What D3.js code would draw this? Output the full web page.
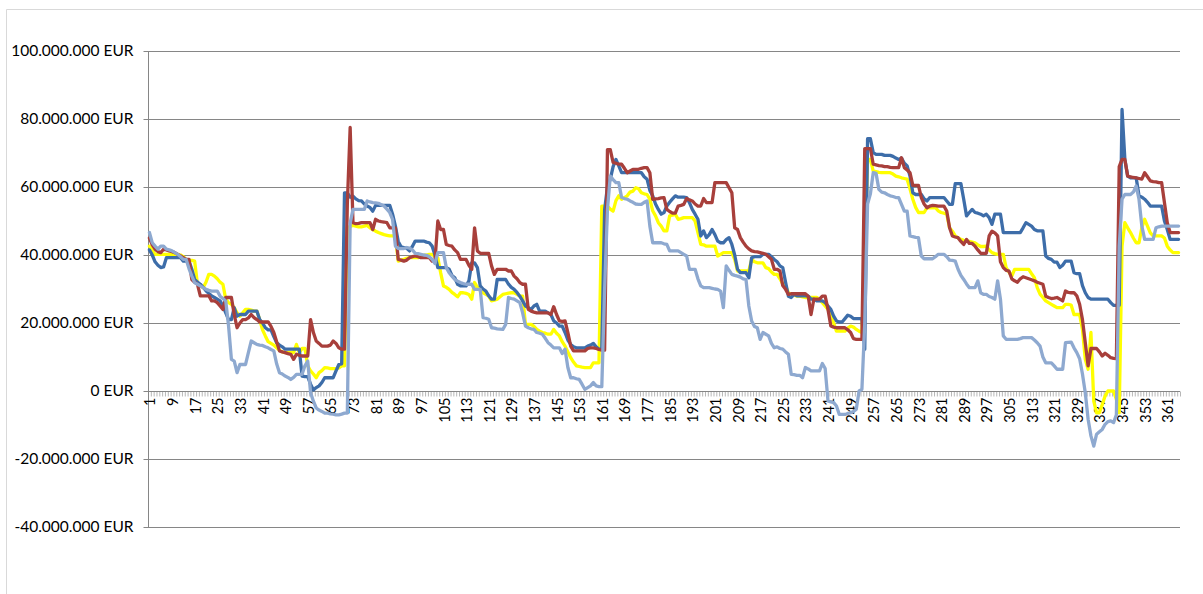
<!DOCTYPE html>
<html>
<head>
<meta charset="utf-8">
<script src="https://cdn.jsdelivr.net/npm/d3@7"></script>
<style>
  html, body { margin: 0; padding: 0; background: #fff; }
  svg { display: block; }
  text { font-family: Lato, "Open Sans", sans-serif; fill: #000; }
</style>
</head>
<body>
<svg id="chart" width="1203" height="594"></svg>
<script>
// Values in millions of EUR, one per day (1..365)
const seriesBlue = [
41.5,40,38,37,36.3,36.5,39.2,39.2,39.2,39.2,
39.2,39.2,38.2,38.2,38.2,35.8,32.8,32,31.4,30.5,
29.5,28.7,28,27.5,27,26.5,25,23,21,21,
24.5,22,22.5,22.5,22.5,23.5,23.5,23.5,23.5,21,
20,18.6,18,18,16,14.2,13.5,13,12.3,12.3,
12.3,12.3,12.3,12.3,4.4,4.2,4.2,2,0.3,1,
1.5,2.5,3.9,3.9,3.9,3.9,5.9,7.8,8,58.3,
58.3,57,57.3,56.5,56,55.9,55,54.4,54,52.9,
54.6,54.6,54.6,54.6,54.6,54.6,52,48.5,44,42.4,
42.2,42,41.2,42.5,44.1,44.1,44.1,44.1,43.8,43.6,
42.6,40,36.3,36.3,36.3,36.3,35.8,34,33.3,31.4,
30.9,30.9,30.9,32.4,37.7,37.7,36.3,30.9,30,29.4,
28,27,27,32.8,32.8,32.8,32.8,31.4,30.5,29.9,
29,27.9,26.5,25,24.5,24,25,25.5,23.5,23.5,
23.5,23,22.5,20.6,20,19.1,19.1,17.2,15,13.7,
13,12.7,12.7,12.7,12.7,13.2,13.5,14,13,12.3,
12.3,53.4,60,62.3,66,68.1,66.2,64.2,64.2,64.2,
64.2,64.2,64.2,64.2,64.2,63,62.3,59,57.4,55,
53.4,52,52.5,54.4,55.5,56.5,57.4,57,57,57,
56.9,55.4,53.4,52,50.5,45.6,47.1,45.1,46,47.5,
46,44.1,43.6,43.6,44.5,45.1,43.1,40,35.8,34.8,
34.8,34.8,33.3,39.2,39.5,39.5,39.5,40.2,40.2,40.2,
39.5,38.7,38,36.8,36.3,32,27.9,27.5,28.4,28,
28,28,28,27.9,27,27,26.5,26.5,26.5,26,
25,24,22,20.6,20.3,20.3,21.3,22.3,22,21.3,
21.3,21.3,21.3,12.3,74.2,74.2,70.1,69.6,69.6,69.6,
69.3,69.3,69.3,69,68.5,68.1,68.5,67,66.2,63.2,
58.3,57.8,57.8,57.8,56.5,55.9,56.9,56.9,56.9,56.9,
56.9,56.9,55.9,54.9,54.9,61,61,61,56.4,51.5,
52.5,53.4,52.5,52.3,52,51.5,52,51,49,52,
52,52,46.6,46.6,46.6,46.6,46.6,46.6,46.6,48,
49.5,49,48.5,47.5,47.1,47.1,47.1,39.7,39,38.7,
37.9,37.9,36.3,37,38.2,38.2,38.2,34.8,34.5,34.5,
31,28.9,27.5,27,27,27,27,27,27,27,
26,25.2,25.2,25.2,82.8,68.1,63.2,62.7,62.7,62.7,
57.4,57,56.4,55.5,54.4,54.4,54.4,54.4,54.4,50,
47.5,44.6,44.6,44.6,44.6
];
const seriesRed = [
45,43,41.7,41,40.7,41.7,41.5,41.2,41,40.7,
40.2,39.7,39.2,38.7,38.7,32.8,32,31.4,28,28,
28,28,26.5,26.5,26,25,24,27.5,27.5,27.5,
22.5,18.6,20,21,21,21.5,22.5,21.6,21,20.3,
20.3,20.3,20.3,19,17.2,14.5,11.8,11.5,11.3,11,
10.8,9.3,10.8,10.5,10.3,10.3,10.3,21,17.2,14.7,
14,13.2,13.2,13.2,13.5,14.7,14,12.7,12.3,12.3,
55,77.5,49.5,49.2,49.3,49.5,49.5,49.5,49.5,47.5,
50.5,50,49.8,49.7,49.5,48,48,48,38.7,38.5,
38.2,38.5,39.2,39.5,39.7,39.5,39.2,39.2,39.2,39.2,
38.2,38.2,50,47.5,47.5,43.1,42.8,42.6,41.5,40.7,
38.7,38.7,38.7,37,35.8,48,41.2,40.5,40.5,40.5,
40.5,36.8,34.3,35.8,35.8,35.8,35.8,35.3,35.3,33.8,
33,31.9,31.4,31.4,24,23.5,23.2,23,23,23,
23,23,22.5,24.8,22.5,20.6,20.5,20.6,17.2,13.2,
11.8,11.8,11.8,11.8,11.8,12.5,12.7,12.7,12.5,12.2,
12,12,71,71,67.2,67,66.7,66.7,65.5,64.2,
64.7,65.2,65.2,65.2,65.5,65.7,65.7,64.2,56.4,56.5,
56.6,56.8,56.9,53.4,52.8,52.3,52.3,54.4,54.6,54.9,
56.6,56.2,55.9,55,54.4,54.4,56.6,55.4,55.4,55.4,
61.3,61.3,61.3,61.3,61.3,59.8,58.3,48,47.5,45.1,
43.8,42.6,41.8,41.2,41,40.9,40.7,40.5,40.2,39.5,
38.7,35.8,35.8,35.3,31,29.9,28.4,28.6,28.6,28.6,
28.6,28.6,28.6,27.9,22.5,27,27,27,27.9,27.9,
24,19.1,18.8,18.6,18.6,18.6,18.6,18,17.2,15.4,
15.2,15.2,15.2,71.3,71.3,71.3,66.7,66.5,66.3,66.2,
66,66,65.8,65.7,65.7,65.7,68.6,65.7,65,64.2,
60.5,60.5,60.5,56.9,55,53.9,54.4,54.6,54.5,54.4,
54.4,54.4,52.9,48,45.6,45.3,45.1,44,43.1,44.6,
43.4,43.4,42.6,41.5,40.5,40.5,40.5,45.6,47,46.5,
45.6,38,36.3,35.5,35.3,33,32.4,32,33,33.6,
33.3,33,32.7,32.4,32,31.7,31.4,27.9,27.5,27.2,
27.3,27.5,27,26.5,29.4,29,28.9,28.9,28,25.5,
21,14.2,7.4,12.5,12.5,12.5,11.5,10.3,11.1,10.5,
9.8,9.6,9.5,66,68.1,68.1,63.2,63,62.8,62.7,
62.5,62.3,64.2,63,61.8,61.6,61.5,61.3,61.3,55.4,
49.5,46.6,46.6,46.6,46.6
];
const seriesYellow = [
42.6,41.5,40.2,40.2,40.2,40.2,40.2,40.2,40.2,40.2,
40.2,40,39.5,38.7,38.5,38.4,38.2,31.4,31,30.4,
32,34.3,34.3,33.8,33,32,31.4,27,26,25.5,
24.5,23,22,23,24,24,23.8,23.5,23.5,21,
18,16.2,14.5,14,13.5,12.7,12,11.5,11.3,11.3,
11.3,11.3,13.7,11.3,12.5,12.5,7.4,5.9,5,3.9,
5.4,6,6.9,6.8,6.6,6.6,6.6,6.8,7.4,7.4,
48,48.4,48.7,48.5,48.3,48.3,48.5,48.7,48,47.5,
47,46.6,46.3,46,45.8,45.6,45.6,45.6,38.2,38.5,
38.7,39,39.2,39.2,39.2,39.2,39.7,39.9,40,40.2,
40.2,39.5,39.2,34.8,30.9,30.5,29.9,29,28.4,27.7,
28.9,28.9,28.7,28.4,27,31.9,30.5,29.5,28.9,28.4,
27.9,26.5,26.7,27,27.7,28.4,28.6,28.8,28.9,28.9,
28.4,27.9,27.9,19.6,19.6,19.6,19,18.1,17.6,17.2,
17,16.7,16.7,18.1,17,16.2,14.5,13.2,11.5,9.8,
8.5,7.4,7.2,7,6.9,6.9,6.9,8.3,8.3,8.3,
54.4,54.4,54.4,53.5,52.9,56,57.4,56.4,56.9,57.4,
58.5,58.8,59.8,59.5,58.3,58,57.8,56.4,53,51.5,
49.5,48.5,47.1,47.1,51.5,51.7,52,50.5,50.7,51,
51,51,51,50,46.6,43.1,43,42.6,42.6,42.6,
42.6,39.7,40.2,40.7,40.7,40.7,40.7,38.7,35.3,35.3,
35.3,35.3,35.3,38.7,38,37.7,37.7,37.7,36.3,36,
35,34.3,34.3,33,31.5,30.9,28.9,28.5,28.2,27.9,
27.9,27.7,27.5,27.5,27.5,27.5,27.5,27,26,25,
24,23,20,17.6,17.6,17.6,17.6,18.5,19.1,18.8,
18.1,17.6,17.2,40,68.1,68.1,64.7,64.5,64.3,64.2,
64.2,64.2,64.2,63.8,63.2,63,62.7,62.5,62.3,59.5,
56.4,54,52.5,52.5,52.5,53.9,53.9,53.9,53.9,53,
52.5,52.3,52,48,47,45.6,45,44.6,44.3,44.1,
44,43.8,43.6,43,42.5,42.5,42.6,41.5,40.7,40.4,
40.2,40.2,40.2,36.3,35,33.8,35.8,35.8,35.8,35.8,
35.8,35.8,34.5,33.3,30.4,28.5,27.5,26.5,26,25.5,
25,24.5,24.5,24.5,25.5,25.5,25.3,22.5,22.5,22.5,
18.1,9.3,6.4,17.2,-3,-6.4,-6.4,-4,-1.5,0,
0,0,-2.5,-6.4,42.6,49.5,48,46.6,45,43.6,
43.6,48,50.5,48.5,46.5,45.6,45.6,45.6,45.6,45,
42.6,41.5,40.7,40.7,40.7
];
const seriesLightBlue = [
46.6,43.6,42.6,41.7,42.6,42.6,41.7,41.5,41.2,40.7,
40.2,39.5,38.7,38.7,36,33.8,31.9,31.4,30.9,30.4,
29.9,29.6,29.4,29.4,29.4,27.9,27.2,26.5,19.1,9.3,
8.8,5.4,7.8,7.8,7.8,11.3,14.7,14.2,13.7,13.5,
13.4,13,12.7,12.2,11.8,8,5.4,5,4.4,4,
3.4,4,4.9,4.9,4.9,7.4,8.8,-0.5,-3,-5,
-5.6,-6,-6.5,-6.5,-6.7,-6.8,-7,-7,-6.8,-6.5,
-6.5,49.4,53.4,53.4,53.4,53.4,53.4,55.9,55.6,55.4,
55.3,55.2,54.8,54.4,53.5,52.5,50.5,42.6,41.9,41.9,
41.9,42.2,42,41.5,40.5,40.4,40.2,40,39.9,39.5,
38.7,37.5,40.7,40.7,40.7,36.3,34.8,33.8,32.8,32.3,
31.9,31.6,31.4,31.4,31.4,29.9,29.9,29.9,21.6,21.4,
21.1,18.6,18.5,18.3,18.2,18.1,19.6,27.5,27.2,27,
26.5,26,23,19.1,18.6,18.3,18.1,17.2,17,16.7,
15.5,14.2,13.5,12.7,12.7,12.7,11,12.3,6.9,3.9,
3.9,3.6,3.4,2,0.5,1,1.5,2.5,1.5,1.3,
1.3,30,53.4,63.2,62.2,61.3,61.3,56.9,56.6,56.4,
55.9,55.5,55,54.9,54.9,55.5,55.9,48.5,43.6,43.6,
43.6,43.6,43.3,43.1,41.2,41.2,41.2,41.2,40.7,40.2,
39.7,35.8,35.8,35.8,33,30.9,30.4,30.4,30.4,30.2,
30,29.9,29.4,24.5,36.8,35.5,34.3,34,33.8,33.5,
33,32.8,25,20.6,19,18.6,15.2,17.2,16.7,16.2,
14,12.7,13,12.5,12.3,11.5,10.8,4.9,4.8,4.6,
4.6,3.9,6.9,6.5,5.9,5.9,5.9,5.9,8.1,6.6,
-2.9,-3.2,-3.4,-4.4,-6.9,-6.9,-6.9,-6.6,-6.4,-6,
-5.4,0,0.5,20,55,58,64.2,64,59.3,58.5,
58.3,57.8,57.4,57.2,56.9,56.9,54.9,52.9,52.9,45.6,
45.4,45.2,45.1,39.7,38.9,38.9,38.9,38.9,39.5,40.2,
40.2,40.2,39.5,38.5,38.4,38.2,35.8,34,32.8,31.5,
30.4,30.4,30.4,32.4,28.9,28.4,28.4,27.8,27.5,27,
32.4,27,16.2,15.2,15.2,15.2,15.2,15.2,15.4,15.7,
15.7,15.7,15.7,15,14.2,13.2,10,8.3,8.3,8.3,
7.4,6.4,6.4,6.4,14.2,14.3,14.4,12.7,11.3,9.5,
5,-0.5,-8.3,-13.2,-16.2,-12.7,-12,-11.3,-9.8,-9,
-8.8,-9.3,-7,42.6,56.4,57.8,57.8,57.8,58.5,60.3,
56.4,48.5,44.6,44.6,44.6,44.6,48,48.3,48.5,48.5,
48.5,48.5,48.5,48.5,48.5
];
const days = d3.range(1, 366);
const xTickDays = d3.range(1, 366, 8);
const yTickValues = [-40, -20, 0, 20, 40, 60, 80, 100];
const yTickLabels = ["-40.000.000 EUR", "-20.000.000 EUR", "0 EUR", "20.000.000 EUR",
  "40.000.000 EUR", "60.000.000 EUR", "80.000.000 EUR", "100.000.000 EUR"];

const seriesList = [
  { name: "Yellow", values: seriesYellow, color: "#FFFF00" },
  { name: "Blue", values: seriesBlue, color: "#3D6DA9" },
  { name: "Red", values: seriesRed, color: "#A83F3B" },
  { name: "LightBlue", values: seriesLightBlue, color: "#8EA9D0" }
];

(function draw() {
  const svg = d3.select("#chart");
  const pLeft = 148, pRight = 1180, pTop = 51, pBottom = 527;

  // outer chart frame
  svg.append("path").attr("d", "M6.5,594 V9.5 H1203")
    .attr("fill", "none").attr("stroke", "#d9d9d9").attr("stroke-width", 1);

  const x = d3.scaleBand().domain(days).range([pLeft, pRight]).paddingInner(0).paddingOuter(0);
  const xEdge = d3.scaleLinear().domain([0.5, 365.5]).range([pLeft, pRight]);
  const y = d3.scaleLinear().domain([-40, 100]).range([pBottom, pTop]);

  // gridlines
  svg.append("g").selectAll("line").data(yTickValues).join("line")
    .attr("x1", pLeft).attr("x2", pRight)
    .attr("y1", d => Math.round(y(d)) + 0.5).attr("y2", d => Math.round(y(d)) + 0.5)
    .attr("stroke", "#868686").attr("stroke-width", 1);

  // y axis
  const yAxis = d3.axisLeft(y).tickValues(yTickValues).tickSize(5).tickPadding(10)
    .tickFormat((d, i) => yTickLabels[i]);
  const gy = svg.append("g").attr("transform", `translate(${pLeft + 0.5},0)`).call(yAxis);
  gy.select(".domain").attr("stroke", "#868686").attr("d", `M0,${pTop}V${pBottom}`);
  gy.selectAll(".tick line").attr("stroke", "#868686");
  gy.selectAll(".tick").attr("transform", d => `translate(0,${Math.round(y(d)) + 0.5})`);
  gy.selectAll("text").style("font-family", "Lato, sans-serif").style("font-size", "15.5px").attr("fill", "#000");

  // x axis at zero: minor ticks at category boundaries
  const y0 = Math.round(y(0)) + 0.5;
  const xMinor = d3.axisBottom(xEdge).tickValues(d3.range(0.5, 366, 1)).tickSize(5).tickFormat("");
  const gxm = svg.append("g").attr("transform", `translate(0,${y0})`).call(xMinor);
  gxm.select(".domain").remove();
  gxm.selectAll(".tick line").attr("stroke", "#868686").attr("stroke-width", 0.6);

  const xAxis = d3.axisBottom(x).tickValues(xTickDays).tickSize(0).tickPadding(0);
  const gx = svg.append("g").attr("transform", `translate(0,${y0})`).call(xAxis);
  gx.select(".domain").remove();
  gx.selectAll("text")
    .style("font-family", "Lato, sans-serif").style("font-size", "14.5px").attr("fill", "#000")
    .attr("text-anchor", "end")
    .attr("transform", "rotate(-90)")
    .attr("x", -6).attr("y", 1).attr("dy", "0.35em");

  // lines
  const line = d3.line()
    .x((d, i) => x(days[i]) + x.bandwidth() / 2)
    .y(d => y(d));
  svg.append("g").selectAll("path").data(seriesList).join("path")
    .attr("d", s => line(s.values))
    .attr("fill", "none")
    .attr("stroke", s => s.color)
    .attr("stroke-width", 3.3)
    .attr("stroke-linejoin", "round")
    .attr("stroke-linecap", "round");
})();
</script>
</body>
</html>
